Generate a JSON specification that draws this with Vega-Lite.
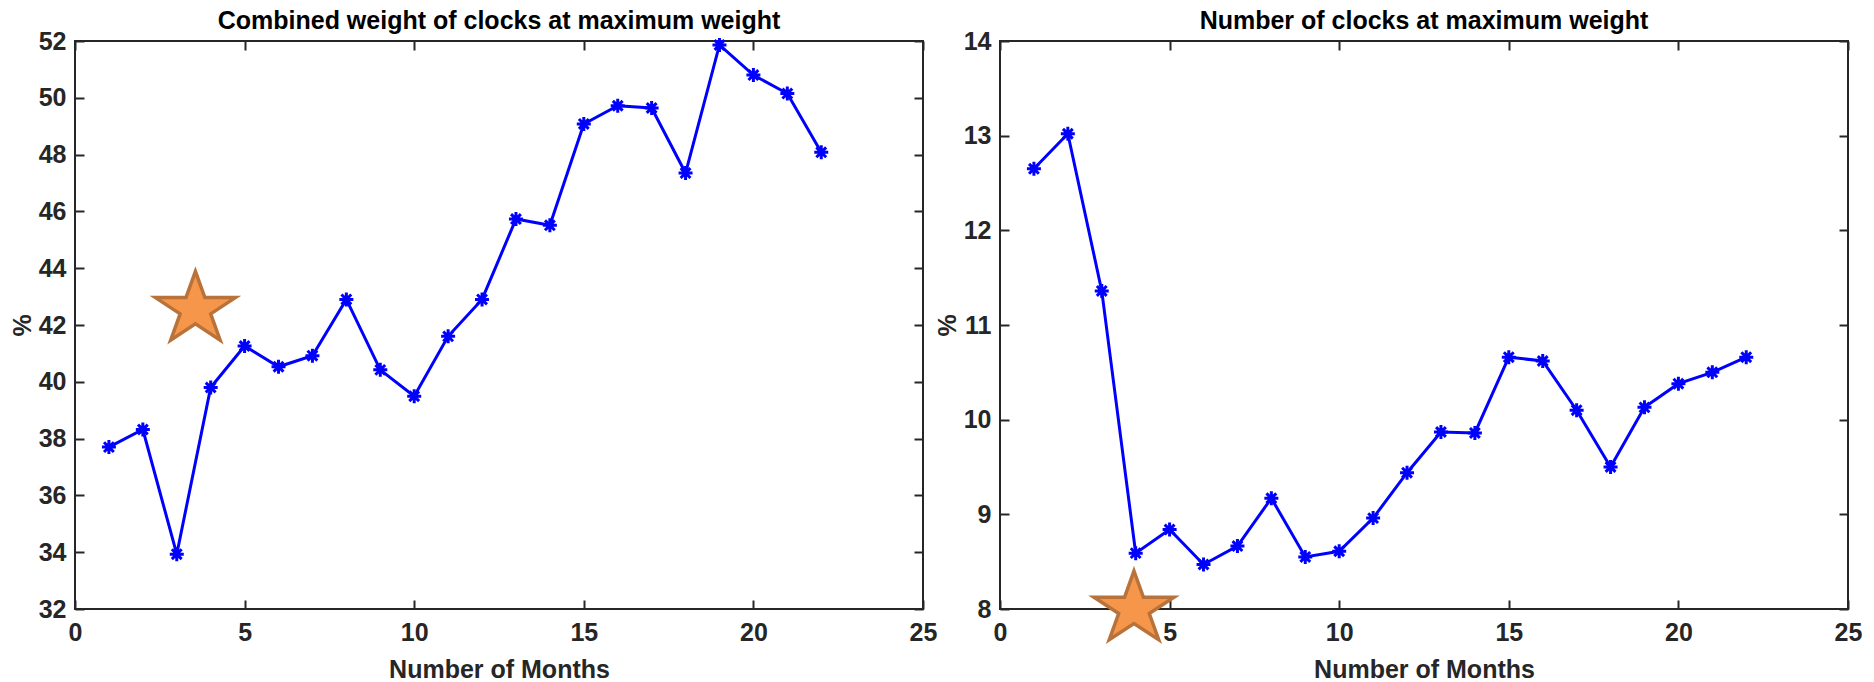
{
  "$schema": "https://vega.github.io/schema/vega-lite/v6.json",
  "background": "white",
  "padding": {"left": 9, "top": 8, "right": 5, "bottom": 0},
  "bounds": "flush",
  "spacing": 77,
  "config": {
    "font": "Liberation Sans",
    "view": {"stroke": "#262626", "strokeWidth": 2},
    "axis": {
      "domain": false,
      "grid": false,
      "tickColor": "#262626",
      "tickWidth": 2,
      "tickSize": -9,
      "labelColor": "#262626",
      "labelFont": "Liberation Sans",
      "labelFontSize": 25,
      "labelFontWeight": "bold",
      "titleColor": "#262626",
      "titleFont": "Liberation Sans",
      "titleFontSize": 25,
      "titleFontWeight": "bold"
    },
    "title": {"font": "Liberation Sans", "fontSize": 25, "fontWeight": "bold", "color": "#000000", "frame": "group", "offset": -5}
  },
  "datasets": {
    "weight": [
      {"month": 1, "pct": 37.7}, {"month": 2, "pct": 38.32}, {"month": 3, "pct": 33.93},
      {"month": 4, "pct": 39.8}, {"month": 5, "pct": 41.26}, {"month": 6, "pct": 40.53},
      {"month": 7, "pct": 40.92}, {"month": 8, "pct": 42.9}, {"month": 9, "pct": 40.42},
      {"month": 10, "pct": 39.49}, {"month": 11, "pct": 41.6}, {"month": 12, "pct": 42.9},
      {"month": 13, "pct": 45.73}, {"month": 14, "pct": 45.51}, {"month": 15, "pct": 49.08},
      {"month": 16, "pct": 49.72}, {"month": 17, "pct": 49.64}, {"month": 18, "pct": 47.35},
      {"month": 19, "pct": 51.86}, {"month": 20, "pct": 50.8}, {"month": 21, "pct": 50.15},
      {"month": 22, "pct": 48.08}
    ],
    "count": [
      {"month": 1, "pct": 12.65}, {"month": 2, "pct": 13.02}, {"month": 3, "pct": 11.36},
      {"month": 4, "pct": 8.59}, {"month": 5, "pct": 8.84}, {"month": 6, "pct": 8.47},
      {"month": 7, "pct": 8.665}, {"month": 8, "pct": 9.17}, {"month": 9, "pct": 8.55},
      {"month": 10, "pct": 8.61}, {"month": 11, "pct": 8.96}, {"month": 12, "pct": 9.44},
      {"month": 13, "pct": 9.87}, {"month": 14, "pct": 9.86}, {"month": 15, "pct": 10.66},
      {"month": 16, "pct": 10.62}, {"month": 17, "pct": 10.1}, {"month": 18, "pct": 9.5},
      {"month": 19, "pct": 10.13}, {"month": 20, "pct": 10.38}, {"month": 21, "pct": 10.5},
      {"month": 22, "pct": 10.66}
    ],
    "weight_star": [{"month": 3.55, "pct": 42.55}],
    "count_star": [{"month": 3.95, "pct": 8}]
  },
  "hconcat": [
    {
      "width": 848,
      "height": 568,
      "title": "Combined weight of clocks at maximum weight",
      "data": {"name": "weight"},
      "layer": [
        {
          "mark": {"type": "line", "color": "#0000FF", "strokeWidth": 3},
          "encoding": {
            "x": {"field": "month", "type": "quantitative",
              "scale": {"domain": [0, 25], "nice": false},
              "axis": {"orient": "bottom", "values": [0, 5, 10, 15, 20, 25], "title": "Number of Months", "labelFlush": false, "labelPadding": 20, "titlePadding": 12}},
            "y": {"field": "pct", "type": "quantitative",
              "scale": {"domain": [32, 52], "nice": false, "zero": false},
              "axis": {"orient": "left", "values": [32, 34, 36, 38, 40, 42, 44, 46, 48, 50, 52], "title": "%", "labelPadding": 18, "titlePadding": 3}}
          }
        },
        {
          "mark": {"type": "point", "shape": "M0,-1L0,1M-1,0L1,0M-0.7,-0.7L0.7,0.7M-0.7,0.7L0.7,-0.7", "size": 196, "filled": false, "color": "#0000FF", "strokeWidth": 3, "opacity": 1},
          "encoding": {
            "x": {"field": "month", "type": "quantitative",
              "axis": {"orient": "top", "values": [0, 5, 10, 15, 20, 25], "labels": false, "title": null}},
            "y": {"field": "pct", "type": "quantitative",
              "axis": {"orient": "right", "values": [32, 34, 36, 38, 40, 42, 44, 46, 48, 50, 52], "labels": false, "title": null}}
          }
        },
        {
          "data": {"name": "weight_star"},
          "mark": {"type": "point", "shape": "M0,-0.95L0.236,-0.294L1,-0.294L0.382,0.112L0.618,0.769L0,0.363L-0.618,0.769L-0.382,0.112L-1,-0.294L-0.236,-0.294Z", "size": 6400, "filled": true, "fill": "#F5964B", "stroke": "#B9733A", "strokeWidth": 3.5, "opacity": 1},
          "encoding": {
            "x": {"field": "month", "type": "quantitative", "axis": null},
            "y": {"field": "pct", "type": "quantitative", "axis": null}
          }
        }
      ],
      "resolve": {"axis": {"x": "independent", "y": "independent"}}
    },
    {
      "width": 848,
      "height": 568,
      "title": "Number of clocks at maximum weight",
      "data": {"name": "count"},
      "layer": [
        {
          "mark": {"type": "line", "color": "#0000FF", "strokeWidth": 3},
          "encoding": {
            "x": {"field": "month", "type": "quantitative",
              "scale": {"domain": [0, 25], "nice": false},
              "axis": {"orient": "bottom", "values": [0, 5, 10, 15, 20, 25], "title": "Number of Months", "labelFlush": false, "labelPadding": 20, "titlePadding": 12}},
            "y": {"field": "pct", "type": "quantitative",
              "scale": {"domain": [8, 14], "nice": false, "zero": false},
              "axis": {"orient": "left", "values": [8, 9, 10, 11, 12, 13, 14], "title": "%", "labelPadding": 18, "titlePadding": 3}}
          }
        },
        {
          "mark": {"type": "point", "shape": "M0,-1L0,1M-1,0L1,0M-0.7,-0.7L0.7,0.7M-0.7,0.7L0.7,-0.7", "size": 196, "filled": false, "color": "#0000FF", "strokeWidth": 3, "opacity": 1},
          "encoding": {
            "x": {"field": "month", "type": "quantitative",
              "axis": {"orient": "top", "values": [0, 5, 10, 15, 20, 25], "labels": false, "title": null}},
            "y": {"field": "pct", "type": "quantitative",
              "axis": {"orient": "right", "values": [8, 9, 10, 11, 12, 13, 14], "labels": false, "title": null}}
          }
        },
        {
          "data": {"name": "count_star"},
          "mark": {"type": "point", "shape": "M0,-0.95L0.236,-0.294L1,-0.294L0.382,0.112L0.618,0.769L0,0.363L-0.618,0.769L-0.382,0.112L-1,-0.294L-0.236,-0.294Z", "size": 6400, "filled": true, "fill": "#F5964B", "stroke": "#B9733A", "strokeWidth": 3.5, "opacity": 1},
          "encoding": {
            "x": {"field": "month", "type": "quantitative", "axis": null},
            "y": {"field": "pct", "type": "quantitative", "axis": null}
          }
        }
      ],
      "resolve": {"axis": {"x": "independent", "y": "independent"}}
    }
  ]
}
